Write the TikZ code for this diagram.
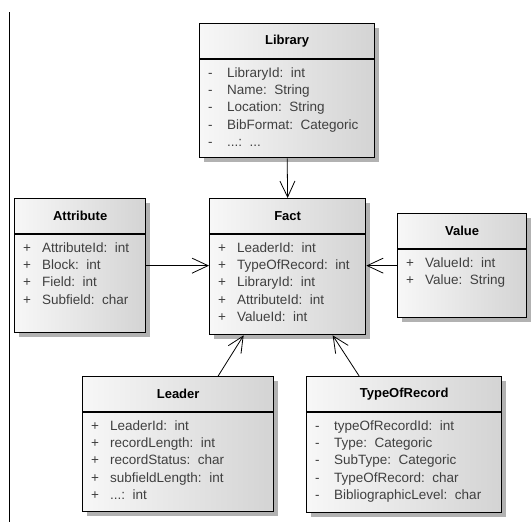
\documentclass[tikz,border=0pt]{standalone}
\usepackage{fontspec}
\setmainfont{Liberation Sans}
\usetikzlibrary{arrows.meta, shadows}

\tikzset{
  classbox/.style={draw=black, line width=1.3pt, left color=black!3, right color=black!17,
    general shadow={fill=black!30, shadow xshift=4pt, shadow yshift=-4pt},
    inner sep=0pt, anchor=north west},
  classtitle/.style={font=\fontsize{13}{15}\selectfont\bfseries},
  members/.style={font=\fontsize{13.5}{17.3}\selectfont, text=black!75, inner sep=0pt, anchor=north west},
  assoc/.style={-{Straight Barb[length=16pt,width=15pt]}, line width=0.8pt}
}

% class box: name, x, y, width, height, title, member rows
\newcommand{\umlclass}[7]{%
  \node[classbox, minimum width=#4pt, minimum height=#5pt] (#1) at (#2,#3) {};
  \draw[line width=1.3pt] ([yshift=-36pt]#1.north west) -- ([yshift=-36pt]#1.north east);
  \node[classtitle] (#1-title) at ([yshift=-18pt]#1.north) {#6};
  \node[members] (#1-members) at ([xshift=9pt,yshift=-42pt]#1.north west)
    {\begin{tabular}{@{}p{19pt}@{}l@{}}#7\end{tabular}};
}

\begin{document}
\begin{tikzpicture}[x=1pt, y=-1pt]
  \useasboundingbox (0,0) rectangle (531,522);
  \draw[line width=0.8pt] (9,12) -- (9,522);

  \umlclass{library}{199}{23}{175}{134}{Library}{%
    - & LibraryId:\ \ int\\ - & Name:\ \ String\\ - & Location:\ \ String\\
    - & BibFormat:\ \ Categoric\\ - & ...:\ \ ...}
  \umlclass{attribute}{14}{198}{131}{134}{Attribute}{%
    + & AttributeId:\ \ int\\ + & Block:\ \ int\\ + & Field:\ \ int\\ + & Subfield:\ \ char}
  \umlclass{fact}{209}{198}{156}{136}{Fact}{%
    + & LeaderId:\ \ int\\ + & TypeOfRecord:\ \ int\\ + & LibraryId:\ \ int\\
    + & AttributeId:\ \ int\\ + & ValueId:\ \ int}
  \umlclass{value}{397}{213}{129}{104}{Value}{%
    + & ValueId:\ \ int\\ + & Value:\ \ String}
  \umlclass{leader}{82}{376}{191}{135}{Leader}{%
    + & LeaderId:\ \ int\\ + & recordLength:\ \ int\\ + & recordStatus:\ \ char\\
    + & subfieldLength:\ \ int\\ + & ...:\ \ int}
  \umlclass{typeofrecord}{306}{376}{195}{136}{TypeOfRecord}{%
    - & typeOfRecordId:\ \ int\\ - & Type:\ \ Categoric\\ - & SubType:\ \ Categoric\\
    - & TypeOfRecord:\ \ char\\ - & BibliographicLevel:\ \ char}

  % associations into the fact table
  \draw[assoc] (library.south) -- (fact.north);
  \draw[assoc] (attribute.east) -- (attribute.east -| fact.west);
  \draw[assoc] (value.west) -- (value.west -| fact.east);
  \draw[assoc] ([xshift=40pt]leader.north) -- ([xshift=-44pt]fact.south);
  \draw[assoc] ([xshift=-45pt]typeofrecord.north) -- ([xshift=45pt]fact.south);
\end{tikzpicture}
\end{document}
